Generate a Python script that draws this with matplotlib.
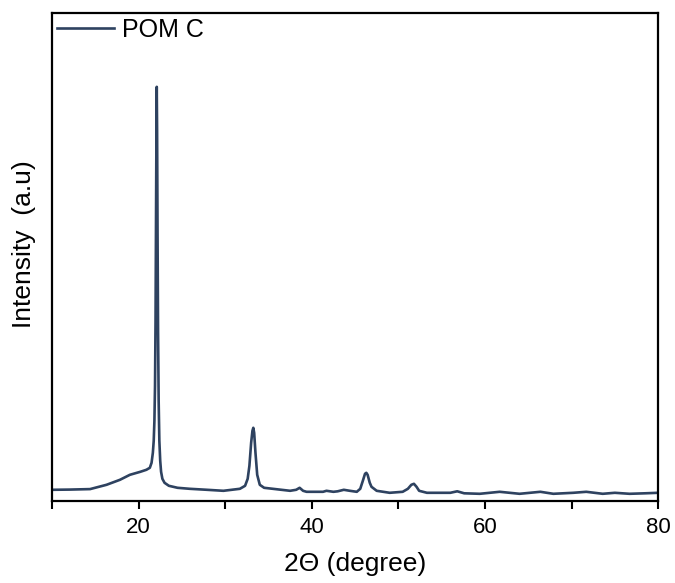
import matplotlib
matplotlib.use("Agg")
import matplotlib.pyplot as plt
from matplotlib.ticker import MultipleLocator

plt.rcParams['font.family'] = ['Liberation Sans', 'DejaVu Sans']

# Datos (2theta en grados, intensidad en unidades arbitrarias)
two_theta = [10.0, 12.0, 14.4, 16.3, 17.85, 19.0, 20.2, 20.9, 21.3, 21.5,
             21.65, 21.75, 21.83, 21.9, 21.96, 22.02, 22.07, 22.1, 22.14, 22.19,
             22.25, 22.32, 22.4, 22.5, 22.6, 22.75, 23.0, 23.5, 24.5, 25.9, 27.9,
             29.8, 31.7, 32.3, 32.6, 32.8, 33.0, 33.15, 33.25, 33.35, 33.5,
             33.7, 34.0, 34.5, 35.5, 37.5, 38.2, 38.6, 39.0, 39.4, 41.3,
             41.7, 42.5, 43.0, 43.7, 44.4, 45.2, 45.6, 45.9, 46.15, 46.3,
             46.45, 46.7, 46.9, 47.5, 49.0, 50.5, 51.1, 51.5, 51.8, 52.1,
             52.4, 53.3, 56.0, 56.8, 57.6, 59.4, 61.7, 64.0, 66.4, 67.9,
             70.2, 71.7, 73.6, 75.0, 76.7, 78.5, 80.0]
intensity = [11, 11.2, 11.7, 16, 21, 26, 29, 31, 33, 38,
             48, 60, 80, 115, 180, 290, 380, 414, 370, 270,
             170, 100, 60, 40, 29, 22, 18, 15, 13, 12, 11,
             10, 12, 15, 22, 35, 58, 70, 73, 68, 48,
             26, 16, 13, 12, 10, 11, 13, 10, 9, 9,
             10, 9, 9.5, 11, 10, 9, 12, 20, 27, 28,
             26, 18, 14, 10, 8, 9, 12, 16, 17, 14,
             10, 8, 8, 9.5, 7.5, 7, 9, 7, 9, 7,
             8, 9, 7, 8, 7, 7.5, 8]

leyenda = "POM C"
color_linea = "#2e4260"

fig = plt.figure(figsize=(6.75, 5.83), dpi=100)
ax = fig.add_axes([0.077, 0.141, 0.898, 0.837])

ax.plot(two_theta, intensity, color=color_linea, lw=1.9, label=leyenda,
        solid_joinstyle="round")

ax.set_xlim(10, 80)
ax.set_ylim(0, 488)
ax.xaxis.set_major_locator(MultipleLocator(20))
ax.xaxis.set_minor_locator(MultipleLocator(10))
ax.tick_params(axis="x", which="both", direction="out", length=6, width=1.5,
               labelsize=16, pad=6)
ax.set_yticks([])
for s in ax.spines.values():
    s.set_linewidth(1.6)

ax.set_xlabel("2Θ (degree)", fontsize=19, labelpad=10)
ax.set_ylabel("Intensity  (a.u)", fontsize=19)
ax.yaxis.set_label_coords(-0.027, 0.525)

ax.legend(loc="upper left", frameon=False, fontsize=18, handlelength=2.3,
          handletextpad=0.3, borderaxespad=0.1, borderpad=0.1)

fig.savefig("out.png", dpi=100)
